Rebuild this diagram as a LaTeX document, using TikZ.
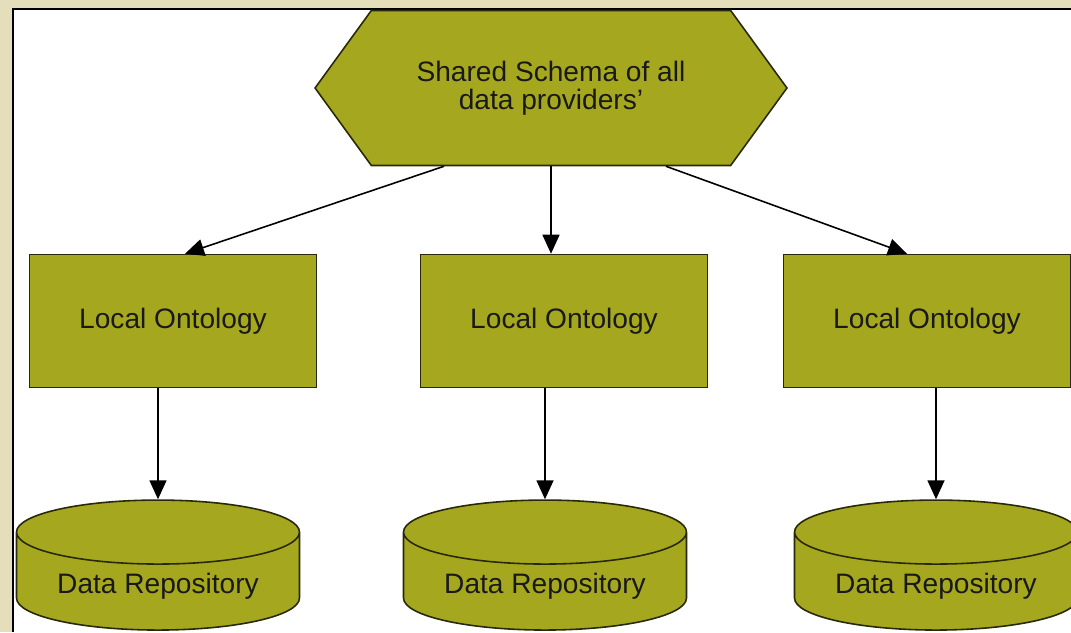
\documentclass[tikz,border=0pt]{standalone}
\usepackage{fontspec}
\setmainfont{Liberation Sans}
\usetikzlibrary{shapes.geometric,shapes.symbols,arrows.meta}
\definecolor{leaf}{RGB}{165,168,30}
\definecolor{edge}{RGB}{40,40,10}
\definecolor{paper}{RGB}{229,222,186}
\begin{document}
\begin{tikzpicture}
  [x=0.02cm,y=-0.02cm,
   every node/.style={draw=edge,fill=leaf,text=black!90,line width=0.9pt,
     font=\fontsize{16}{16}\selectfont},
   schema/.style={signal,signal to=west and east,signal pointer angle=108,
     minimum width=9.44cm,minimum height=3.1cm,align=center},
   onto/.style={rectangle,minimum width=5.74cm,minimum height=2.66cm},
   repo/.style={cylinder,shape border rotate=90,aspect=0.3,
     minimum width=5.66cm,minimum height=2.6cm},
   link/.style={line width=0.9pt,-{Triangle[length=0.38cm,width=0.34cm]}}]
  \useasboundingbox (0,0) rectangle (1071,632);
  \fill[paper] (0,0) rectangle (1071,632);
  \fill[white] (13,9) rectangle (1071,632);
  \draw[line width=1.5pt] (13,632) -- (13,9) -- (1071,9);

  \node[schema] (sch) at (551,88) {Shared Schema of all\\data providers'};
  \node[onto] (lo1) at (173,321) {Local Ontology};
  \node[onto] (lo2) at (564,321) {Local Ontology};
  \node[onto] (lo3) at (927,321) {Local Ontology};
  \node[repo] (db1) at (158,586) {Data Repository};
  \node[repo] (db2) at (545,586) {Data Repository};
  \node[repo] (db3) at (936,586) {Data Repository};

  \draw [link] ([xshift=-2.14cm]sch.south) -- ([xshift=0.24cm]lo1.north);
  \draw [link] (sch.south) -- (sch.south |- lo2.north);
  \draw [link] ([xshift=2.3cm]sch.south) -- ([xshift=-0.4cm]lo3.north);
  \foreach \from/\to in {lo1/db1, lo2/db2, lo3/db3}
    \draw [link] (\from.south -| \to.north) -- (\to.north);

\end{tikzpicture}
\end{document}
